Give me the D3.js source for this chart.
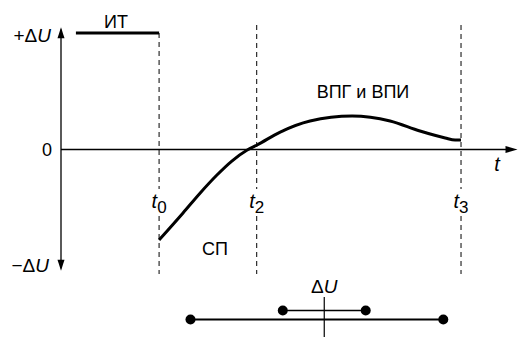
<html>
<head>
    <meta charset="utf-8">
    <style>
        body { margin: 0; background: #fff; }
        text { font-family: 'Liberation Sans', Arial, sans-serif; fill: #000; }
    </style>
</head>
<body>
    <div id="chart"></div>
    <script src="https://d3js.org/d3.v7.min.js"></script>
    <script>
        // Dados (unidades arbitrárias: tempo 0..100, ΔU -1..1)
        const curveT  = [21.7, 27.0, 30.8, 34.5, 37.8, 41.2, 43.4, 48.5, 55.1, 64.4, 72.8, 79.4, 85.0, 87.2, 88.5];
        const curveDU = [-0.777, -0.545, -0.373, -0.219, -0.099, -0.004, 0.039, 0.150, 0.245, 0.288, 0.245, 0.159, 0.099, 0.082, 0.082];
        const itT = [3.3, 21.7];
        const itDU = 1;
        const markT = [21.7, 43.3, 88.5];
        const markLabels = ["0", "2", "3"];
        const bandLong = [-1.0, 0.89];
        const bandShort = [-0.31, 0.31];

        const W = 518, H = 337;
        const svg = d3.select("#chart").append("svg")
            .attr("width", W).attr("height", H);

        const x = d3.scaleLinear().domain([0, 100]).range([61, 513]);
        const y = d3.scaleLinear().domain([-1, 1]).range([266, 33]);
        const u = d3.scaleLinear().domain([-1, 1]).range([190.5, 458]); // escala da faixa ΔU

        // Linhas tracejadas verticais (com espaço para o rótulo)
        markT.forEach((t, i) => {
            const top = i === 0 ? y(itDU) : 25;
            [[top, 189], [216, 274]].forEach(seg => {
                svg.append("line")
                    .attr("x1", x(t)).attr("x2", x(t))
                    .attr("y1", seg[0]).attr("y2", seg[1])
                    .attr("stroke", "#000").attr("stroke-width", 1)
                    .attr("stroke-dasharray", "5,4");
            });
            const lbl = svg.append("text")
                .attr("x", x(t)).attr("y", 208)
                .attr("text-anchor", "middle")
                .style("font-size", "20px");
            lbl.append("tspan").style("font-style", "italic").text("t");
            lbl.append("tspan").attr("dy", 5).style("font-size", "17px").text(markLabels[i]);
        });

        // Eixos
        svg.append("line")
            .attr("x1", x(0)).attr("x2", x(0))
            .attr("y1", y(1.03)).attr("y2", y(-1.02))
            .attr("stroke", "#000").attr("stroke-width", 1.3);
        svg.append("path")
            .attr("d", `M${x(0)},${y(1.05)} l-3.5,11 l7,0 Z`)
            .attr("fill", "#000");
        svg.append("path")
            .attr("d", `M${x(0)},${y(-1.04)} l-3.5,-11 l7,0 Z`)
            .attr("fill", "#000");

        svg.append("line")
            .attr("x1", x(0)).attr("x2", x(99))
            .attr("y1", y(0)).attr("y2", y(0))
            .attr("stroke", "#000").attr("stroke-width", 1.3);
        svg.append("path")
            .attr("d", `M${x(101)},${y(0)} l-12,-3.5 l0,7 Z`)
            .attr("fill", "#000");

        // ИТ
        svg.append("line")
            .attr("x1", x(itT[0])).attr("x2", x(itT[1]))
            .attr("y1", y(itDU)).attr("y2", y(itDU))
            .attr("stroke", "#000").attr("stroke-width", 3);

        // Curva
        const line = d3.line()
            .x((d, i) => x(curveT[i]))
            .y(d => y(d))
            .curve(d3.curveMonotoneX);
        svg.append("path")
            .attr("d", line(curveDU))
            .attr("fill", "none")
            .attr("stroke", "#000").attr("stroke-width", 3);

        // Rótulos
        const deltaU = (sel, sign) => {
            if (sign) sel.append("tspan").text(sign);
            sel.append("tspan").text("Δ");
            sel.append("tspan").style("font-style", "italic").text("U");
        };
        deltaU(svg.append("text").attr("x", 51).attr("y", 42)
            .attr("text-anchor", "end").style("font-size", "19px"), "+");
        deltaU(svg.append("text").attr("x", 49).attr("y", 272)
            .attr("text-anchor", "end").style("font-size", "19px"), "−");
        svg.append("text").attr("x", 52).attr("y", 156)
            .attr("text-anchor", "end").style("font-size", "18px").text("0");
        svg.append("text").attr("x", 497).attr("y", 171)
            .attr("text-anchor", "middle").style("font-size", "20px")
            .style("font-style", "italic").text("t");
        svg.append("text").attr("x", 116).attr("y", 28)
            .attr("text-anchor", "middle").style("font-size", "18px").text("ИТ");
        svg.append("text").attr("x", 363).attr("y", 98)
            .attr("text-anchor", "middle").style("font-size", "18px").text("ВПГ и ВПИ");
        svg.append("text").attr("x", 215).attr("y", 255)
            .attr("text-anchor", "middle").style("font-size", "18px").text("СП");

        // Faixa ΔU inferior
        deltaU(svg.append("text").attr("x", u(0)).attr("y", 293)
            .attr("text-anchor", "middle").style("font-size", "19px"), null);

        svg.append("line")
            .attr("x1", u(0)).attr("x2", u(0))
            .attr("y1", 297).attr("y2", 337)
            .attr("stroke", "#000").attr("stroke-width", 1.2);

        [[bandLong, 319.5, 2], [bandShort, 310.5, 1.5]].forEach(([b, yy, sw]) => {
            svg.append("line")
                .attr("x1", u(b[0])).attr("x2", u(b[1]))
                .attr("y1", yy).attr("y2", yy)
                .attr("stroke", "#000").attr("stroke-width", sw);
            svg.selectAll(null)
                .data(b)
                .join("circle")
                .attr("cx", d => u(d)).attr("cy", yy)
                .attr("r", 5).attr("fill", "#000");
        });
    </script>
</body>
</html>
